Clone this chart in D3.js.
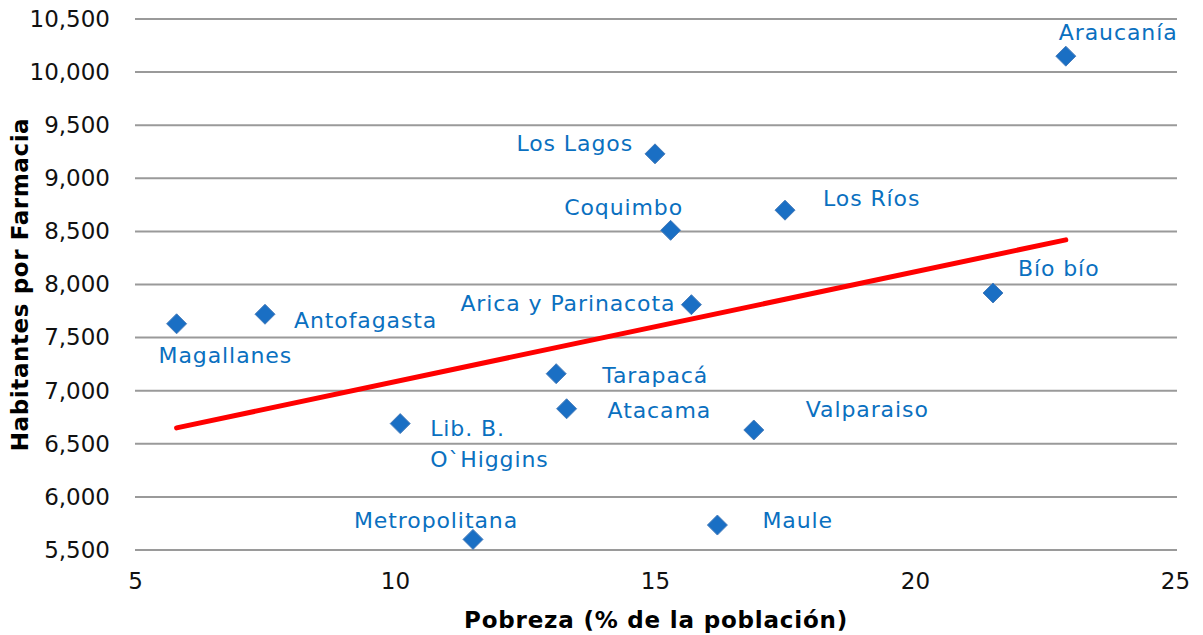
<!DOCTYPE html>
<html lang="es">
<head>
<meta charset="utf-8">
<title>Pobreza vs Habitantes por Farmacia</title>
<script src="https://d3js.org/d3.v7.min.js"></script>
<style>
  body { margin: 0; background: #fff; }
  text { font-family: "DejaVu Sans", Verdana, sans-serif; }
</style>
</head>
<body>
<script>
// regiones, pobreza (%) y habitantes por farmacia
var regions = ["Araucanía", "Los Lagos", "Coquimbo", "Los Ríos", "Bío bío", "Arica y Parinacota",
  "Antofagasta", "Magallanes", "Tarapacá", "Atacama", "Lib. B. O`Higgins", "Valparaiso",
  "Metropolitana", "Maule"];
var poverty = [22.9, 15.0, 15.3, 17.5, 21.5, 15.7, 7.5, 5.8, 13.1, 13.3, 10.1, 16.9, 11.5, 16.2];
var inhabitants = [10150, 9230, 8510, 8700, 7920, 7810, 7720, 7630, 7160, 6830, 6690, 6630, 5600, 5735];

// linea de tendencia (extremos)
var trendX = [5.8, 22.9];
var trendY = [6650, 8420];

var xTicks = [5, 10, 15, 20, 25];
var yTicks = [5500, 6000, 6500, 7000, 7500, 8000, 8500, 9000, 9500, 10000, 10500];

// ubicacion de las etiquetas respecto del punto (px)
var labelPos = {
  "Araucanía": { dx: -7, dy: -24, anchor: "start" },
  "Los Lagos": { dx: -22, dy: -11, anchor: "end" },
  "Coquimbo": { dx: -47, dy: -23, anchor: "middle" },
  "Los Ríos": { dx: 38, dy: -12, anchor: "start" },
  "Bío bío": { dx: 25, dy: -25, anchor: "start" },
  "Arica y Parinacota": { dx: -16, dy: -2, anchor: "end" },
  "Antofagasta": { dx: 29, dy: 6, anchor: "start" },
  "Magallanes": { dx: -18, dy: 31, anchor: "start" },
  "Tarapacá": { dx: 46, dy: 1, anchor: "start" },
  "Atacama": { dx: 41, dy: 1, anchor: "start" },
  "Lib. B. O`Higgins": { dx: 30, dy: 4, anchor: "start", lines: ["Lib. B.", "O`Higgins"] },
  "Valparaiso": { dx: 52, dy: -21, anchor: "start" },
  "Metropolitana": { dx: -37, dy: -19, anchor: "middle" },
  "Maule": { dx: 45, dy: -5, anchor: "start" }
};

var width = 1203, height = 635;
var margin = { top: 19, right: 28, bottom: 85, left: 135 };

var svg = d3.select("body").append("svg")
  .attr("width", width)
  .attr("height", height);

var x = d3.scaleLinear().domain([5, 25]).range([margin.left, width - margin.right]);
var y = d3.scaleLinear().domain([5500, 10500]).range([height - margin.bottom, margin.top]);

// lineas de cuadricula
svg.append("g")
  .selectAll("line")
  .data(yTicks)
  .enter().append("line")
  .attr("x1", x(5))
  .attr("x2", x(25) + 2)
  .attr("y1", function(d) { return y(d); })
  .attr("y2", function(d) { return y(d); })
  .attr("stroke", "#9a9a9a")
  .attr("stroke-width", 2);

// eje y
var yAxis = svg.append("g")
  .attr("transform", "translate(" + (x(5) - 25) + ",0)")
  .call(d3.axisLeft(y).tickValues(yTicks).tickSize(0).tickPadding(0).tickFormat(d3.format(",")));
yAxis.select(".domain").remove();
yAxis.selectAll("text").attr("font-size", 23).attr("fill", "#111").attr("font-family", "DejaVu Sans");

// eje x
var xAxis = svg.append("g")
  .attr("transform", "translate(0," + (y(5500) + 23) + ")")
  .call(d3.axisBottom(x).tickValues(xTicks).tickSize(0).tickPadding(0).tickFormat(d3.format("d")));
xAxis.select(".domain").remove();
xAxis.selectAll("text").attr("font-size", 23).attr("fill", "#111").attr("font-family", "DejaVu Sans");

// titulos
svg.append("text")
  .attr("x", 656)
  .attr("y", 628)
  .attr("text-anchor", "middle")
  .attr("font-size", 23)
  .attr("font-weight", "bold")
  .attr("letter-spacing", "0.8px")
  .text("Pobreza (% de la población)");

svg.append("text")
  .attr("transform", "translate(28," + ((y(5500) + y(10500)) / 2) + ") rotate(-90)")
  .attr("text-anchor", "middle")
  .attr("font-size", 23)
  .attr("font-weight", "bold")
  .attr("letter-spacing", "0.6px")
  .text("Habitantes por Farmacia");

// tendencia
svg.append("line")
  .attr("x1", x(trendX[0]))
  .attr("y1", y(trendY[0]))
  .attr("x2", x(trendX[1]))
  .attr("y2", y(trendY[1]))
  .attr("stroke", "#ff0000")
  .attr("stroke-width", 5)
  .attr("stroke-linecap", "round");

var points = regions.map(function(r, i) {
  return { name: r, px: poverty[i], hab: inhabitants[i] };
});

// rombos
svg.append("g")
  .selectAll("path")
  .data(points)
  .enter().append("path")
  .attr("d", "M0,-10L10,0L0,10L-10,0Z")
  .attr("transform", function(d) { return "translate(" + x(d.px) + "," + y(d.hab) + ")"; })
  .attr("fill", "#1a6fc4")
  .attr("stroke", "#4a7ebb")
  .attr("stroke-width", 1);

// etiquetas
var labels = svg.append("g")
  .selectAll("text")
  .data(points)
  .enter().append("text")
  .attr("x", function(d) { return x(d.px) + labelPos[d.name].dx; })
  .attr("y", function(d) { return y(d.hab) + labelPos[d.name].dy; })
  .attr("text-anchor", function(d) { return labelPos[d.name].anchor; })
  .attr("font-size", 22)
  .attr("letter-spacing", "0.9px")
  .attr("fill", "#0a70c0");

labels.each(function(d) {
  var t = d3.select(this);
  var lines = labelPos[d.name].lines || [d.name];
  lines.forEach(function(line, k) {
    t.append("tspan")
      .attr("x", x(d.px) + labelPos[d.name].dx)
      .attr("dy", k === 0 ? "0.36em" : "31px")
      .text(line);
  });
});
</script>
</body>
</html>
